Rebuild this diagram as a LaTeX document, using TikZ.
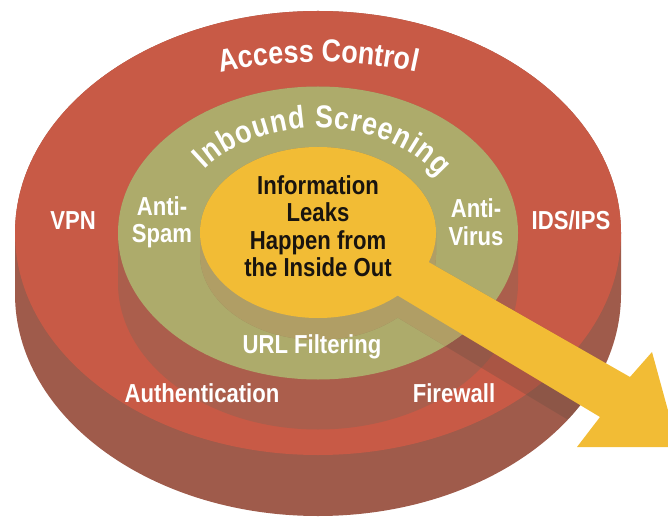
\documentclass[tikz,border=0pt]{standalone}
\usepackage{fontspec}
\setmainfont{Liberation Sans}[FakeStretch=0.85]
\usetikzlibrary{decorations.text}

\definecolor{ringred}{RGB}{200,90,70}
\definecolor{ringside}{RGB}{159,91,75}
\definecolor{screenside}{RGB}{171,94,76}
\definecolor{screengreen}{RGB}{173,171,107}
\definecolor{coretan}{RGB}{176,158,101}
\definecolor{coreyellow}{RGB}{242,188,53}
\definecolor{shadowbrown}{RGB}{100,75,65}
\definecolor{coreink}{RGB}{25,20,15}

\newcommand{\leakshadow}{(200,287.5) -- (200,265.5) arc[start angle=180, end angle=360, x radius=118, y radius=85.5] -- (436,287.5) arc[start angle=0, end angle=180, x radius=118, y radius=85.5] -- cycle
  (380,285.7) -- (360,225) -- (600,81) -- (577,51) -- (678,51) -- (678,73) -- (652,168) -- (630,143) -- cycle}
\newcommand{\arcfont}{\fontsize{22.5}{26}\selectfont\bfseries}

\begin{document}
\begin{tikzpicture}[
    x=0.025cm, y=0.025cm,
    ringtext/.style={text=white, font=\fontsize{18.5}{19.5}\selectfont\bfseries, inner sep=0pt, align=center},
    coretext/.style={ringtext, text=coreink},
    arctext/.style={decorate, decoration={text along path, text align=fit to path, text color=white}}
]
\useasboundingbox (0,0) rectangle (668,520);
\clip (0,0) rectangle (668,520);

% outer disc: access control
\fill[ringside] (15,287) -- (15,226) arc[start angle=180, end angle=360, x radius=303, y radius=222] -- (621,287) arc[start angle=0, end angle=180, x radius=303, y radius=222] -- cycle;
\fill[ringred] (318,287) ellipse [x radius=303, y radius=222];

% middle disc: inbound screening
\fill[screenside] (118,287) -- (118,237) arc[start angle=180, end angle=360, x radius=200, y radius=146.5] -- (518,287) arc[start angle=0, end angle=180, x radius=200, y radius=146.5] -- cycle;
\fill[screengreen] (318,287) ellipse [x radius=200, y radius=146.5];

% shadow of the core and the arrow
\begin{scope}
  \clip (15,287) -- (15,226) arc[start angle=180, end angle=360, x radius=303, y radius=222] -- (621,287) arc[start angle=0, end angle=180, x radius=303, y radius=222] -- cycle;
  \fill[shadowbrown, opacity=0.3] \leakshadow;
\end{scope}
\begin{scope}
  \clip (318,287) ellipse [x radius=200, y radius=146.5];
  \fill[coretan] \leakshadow;
\end{scope}

% core and arrow
\fill[coreyellow] (318,287.5) ellipse [x radius=118, y radius=85.5];
\fill[coreyellow] (380,285.7) -- (630,143) -- (652,168) -- (678,73) -- (577,73) -- (600,103) -- (360,247) -- cycle;

\path[arctext, decoration={text={|\arcfont|Access Control}}] ([shift={(318,287)}]110:285 and 171) arc[start angle=110, end angle=70, x radius=285, y radius=171];
\path[arctext, decoration={text={|\arcfont|Inbound Screening}}] ([shift={(318,287)}]143:142 and 105) arc[start angle=143, end angle=32, x radius=142, y radius=105];

\node[ringtext, anchor=base] (vpn) at (73,290) {VPN};
\node[ringtext, anchor=base] (idsips) at (571,290) {IDS/IPS};
\node[ringtext] (antispam) at (162,297.7) {Anti-\\Spam};
\node[ringtext] (antivirus) at (476,297.7) {Anti-\\Virus};
\node[coretext] (leaks) at (318,294) {Information\\Leaks\\Happen from\\the Inside Out};
\node[ringtext, anchor=base] (url) at (312,167) {URL Filtering};
\node[ringtext, anchor=base] (auth) at (202,118) {Authentication};
\node[ringtext, anchor=base] (firewall) at (454,118) {Firewall};

\end{tikzpicture}
\end{document}
